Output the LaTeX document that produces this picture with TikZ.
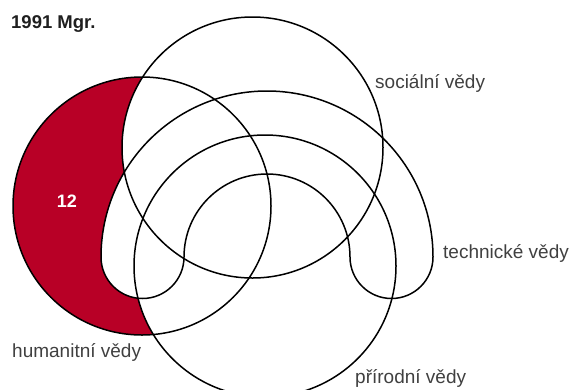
\documentclass[tikz,border=0pt]{standalone}
\usepackage{fontspec}
\setmainfont{Liberation Sans}
\definecolor{hred}{RGB}{184,0,38}
\definecolor{lblgray}{RGB}{64,64,64}
\begin{document}
\begin{tikzpicture}[x=1pt,y=-1pt,
  setline/.style={draw=black,line width=1.5pt},
  lbl/.style={text=lblgray,font=\fontsize{19}{22}\selectfont,anchor=west,inner sep=0pt},
  titlelbl/.style={text=black!88,font=\fontsize{18.5}{22}\selectfont\bfseries,anchor=west,inner sep=0pt}]
\useasboundingbox (0,0) rectangle (575,389);
\coordinate (hum) at (142,206);
\coordinate (soc) at (252.5,147.5);
\coordinate (pri) at (265,266);
\coordinate (tec) at (267,257);
% red fill
\fill[hred] (hum) circle[radius=129pt];
\fill[white] (soc) circle[radius=130.5pt];
\fill[white] (pri) circle[radius=131pt];
\fill[white] (101,257) arc[start angle=180,end angle=0,radius=166pt]
  arc[start angle=0,end angle=-180,radius=41.5pt]
  arc[start angle=0,end angle=180,radius=83pt]
  arc[start angle=0,end angle=-180,radius=41.5pt] -- cycle;
% outlines
\draw[setline] (hum) circle[radius=129pt];
\draw[setline] (soc) circle[radius=130.5pt];
\draw[setline] (pri) circle[radius=131pt];
\draw[setline] (101,257) arc[start angle=180,end angle=0,radius=166pt]
  arc[start angle=0,end angle=-180,radius=41.5pt]
  arc[start angle=0,end angle=180,radius=83pt]
  arc[start angle=0,end angle=-180,radius=41.5pt] -- cycle;
% labels
\node[titlelbl] (title) at (11,24) {1991 Mgr.};
\node[lbl] (lsoc) at (375,83) {sociální vědy};
\node[lbl] (ltec) at (443,253) {technické vědy};
\node[lbl] (lhum) at (12,352) {humanitní vědy};
\node[lbl] (lpri) at (355,378) {přírodní vědy};
\node[text=white,font=\fontsize{18}{20}\selectfont\bfseries,inner sep=0pt] (num) at (67,201) {12};
\end{tikzpicture}
\end{document}
